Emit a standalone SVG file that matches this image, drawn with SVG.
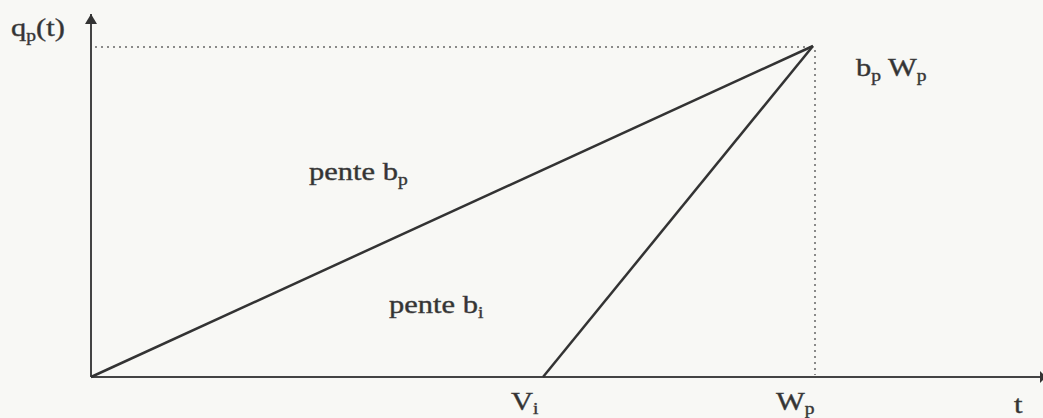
<svg xmlns="http://www.w3.org/2000/svg" width="1043" height="418" viewBox="0 0 1043 418">
<style>
.t{font-family:"Liberation Serif",serif;font-size:25px;fill:#333;stroke:#444;stroke-width:0.4}
.s{font-size:16px}
.ax{stroke:#444;stroke-width:2;fill:none}
.ln{stroke:#333;stroke-width:2.5;fill:none}
.dt{stroke:#666;stroke-width:1.5;stroke-dasharray:2 4;fill:none}
</style>
<defs>
<marker id="ah" viewBox="0 0 10 12" refX="10" refY="6" markerWidth="12" markerHeight="12" markerUnits="userSpaceOnUse" orient="auto">
<path d="M0,0 L10,6 L0,12 Z" fill="#333"/>
</marker>
</defs>
<rect width="1043" height="418" fill="#f8f8f5"/>
<g id="connectors">
<line class="ax" x1="91" y1="377" x2="91" y2="14" marker-end="url(#ah)"/>
<line class="ax" x1="91" y1="377" x2="1043" y2="377"/>
<path d="M1040,371 L1046,377 L1040,383 Z" fill="#333"/>
<line class="dt" x1="95" y1="47" x2="812" y2="47"/>
<line class="dt" x1="815" y1="50" x2="815" y2="375"/>
<line class="ln" x1="91" y1="377" x2="813" y2="46"/>
<line class="ln" x1="543" y1="377" x2="813" y2="46"/>
</g>
<g id="labels">
<g transform="translate(11,36) scale(1.22,1)"><text class="t">q<tspan class="s" dy="5">p</tspan><tspan dy="-5">(t)</tspan></text></g>
<g transform="translate(856,76) scale(1.22,1)"><text class="t">b<tspan class="s" dy="5">p</tspan><tspan dy="-5"> W</tspan><tspan class="s" dy="5">p</tspan></text></g>
<g transform="translate(309,180) scale(1.22,1)"><text class="t">pente b<tspan class="s" dy="5">p</tspan></text></g>
<g transform="translate(389,313) scale(1.22,1)"><text class="t">pente b<tspan class="s" dy="5">i</tspan></text></g>
<g transform="translate(511,410) scale(1.22,1)"><text class="t">V<tspan class="s" dy="4">i</tspan></text></g>
<g transform="translate(776,410) scale(1.22,1)"><text class="t">W<tspan class="s" dy="4">p</tspan></text></g>
<g transform="translate(1014,413) scale(1.22,1)"><text class="t">t</text></g>
</g>
</svg>
